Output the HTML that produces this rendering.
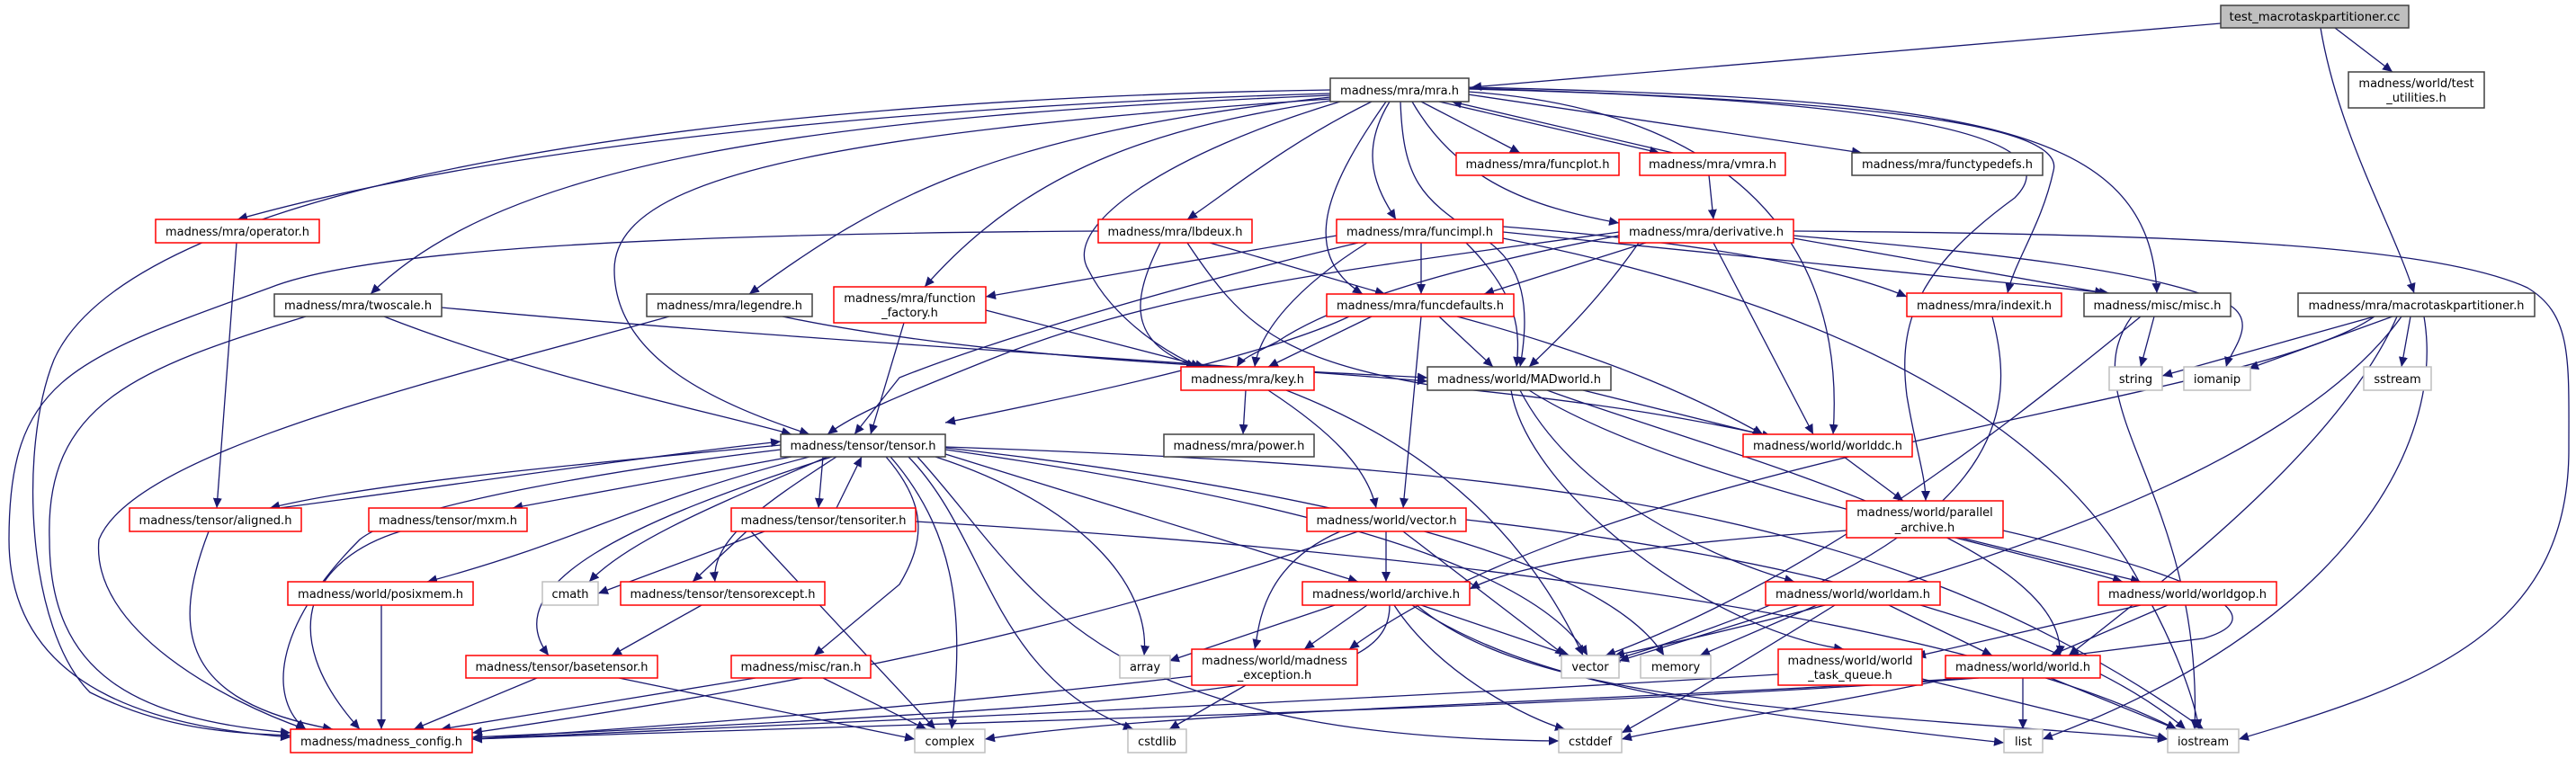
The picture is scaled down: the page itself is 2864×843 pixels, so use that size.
<!DOCTYPE html>
<html><head><meta charset="utf-8">
<style>
html,body{margin:0;padding:0;background:#fff;}
svg{display:block;}
text{font-family:"DejaVu Sans","Liberation Sans",sans-serif;font-size:13px;fill:#000;}
.e{fill:none;stroke:#191970;stroke-width:1.3;}
.b{fill:#fff;stroke:#404040;stroke-width:1.5;}
.r{fill:#fff;stroke:#ff0000;stroke-width:1.5;}
.g{fill:#fff;stroke:#bfbfbf;stroke-width:1.5;}
</style></head><body>
<svg width="2864" height="843" viewBox="0 0 2864 843" xmlns="http://www.w3.org/2000/svg">
<defs>
<marker id="a" markerUnits="userSpaceOnUse" markerWidth="12" markerHeight="10" refX="11" refY="5" orient="auto">
<path d="M0,0 L11,5 L0,10 z" fill="#191970"/>
</marker>
</defs>
<g class="e" marker-end="url(#a)">
<path d="M2469,26 L1636,97"/>
<path d="M2596,31 L2660,80"/>
<path d="M2580,31 C2600,150 2660,250 2684,326"/>
<path d="M1479,104 C1100,115 600,150 264,244"/>
<path d="M1479,106 C900,130 560,180 412,327"/>
<path d="M1479,108 C1100,150 980,220 833,327"/>
<path d="M1479,110 C900,150 683,200 683,300 C683,400 800,450 900,483"/>
<path d="M1479,112 C1300,140 1150,180 1028,319"/>
<path d="M1490,113 C1300,170 1180,250 1210,300 C1240,360 1310,400 1335,408"/>
<path d="M1525,113 C1430,160 1370,210 1320,244"/>
<path d="M1541,113 C1480,200 1440,280 1515,327"/>
<path d="M1545,113 C1510,170 1530,210 1552,244"/>
<path d="M1557,113 C1560,200 1580,220 1640,260 C1700,290 1700,350 1690,408"/>
<path d="M1570,113 C1620,200 1700,230 1800,248"/>
<path d="M1580,113 L1690,170"/>
<path d="M1600,113 L1845,170"/>
<path d="M1860,170 L1614,113"/>
<path d="M1632,105 L2070,170"/>
<path d="M1632,102 C1900,120 2055,250 2038,483"/>
<path d="M1632,98 C2000,110 2300,130 2283,190 C2270,250 2240,290 2232,326"/>
<path d="M1632,97 C2200,110 2390,140 2398,326"/>
<path d="M1632,99 C2100,110 2310,150 2240,220 C2130,300 2110,360 2120,440 C2130,500 2141,530 2141,557"/>
<path d="M1479,100 C800,110 150,200 60,400 C20,500 30,700 100,770 C180,810 250,815 323,818"/>
<path d="M1900,195 L1905,244"/>
<path d="M1994,257 C2400,260 2700,270 2810,320 C2860,350 2856,400 2856,500 C2856,700 2700,760 2489,822"/>
<path d="M1830,270 L1650,327"/>
<path d="M1800,258 C1500,300 1300,320 1100,400 C1000,440 950,460 920,483"/>
<path d="M1800,262 C1600,300 1480,340 1420,380 C1390,395 1380,400 1375,408"/>
<path d="M1822,270 C1780,330 1740,370 1700,408"/>
<path d="M1905,270 L2016,483"/>
<path d="M1994,265 L2340,326"/>
<path d="M1994,262 C2200,280 2400,300 2480,340 C2510,360 2480,390 2475,408"/>
<path d="M1671,252 C1900,270 2050,300 2120,330"/>
<path d="M1671,258 L2345,326"/>
<path d="M1520,270 C1440,320 1400,370 1395,408"/>
<path d="M1580,270 L1580,327"/>
<path d="M1630,270 C1690,330 1690,370 1686,408"/>
<path d="M1486,262 L1096,330"/>
<path d="M1510,270 C1300,320 1100,380 1000,420 L950,483"/>
<path d="M1671,265 C2100,350 2300,500 2380,650 C2420,720 2440,780 2445,811"/>
<path d="M1345,270 L1540,327"/>
<path d="M1290,270 C1260,330 1250,380 1330,408"/>
<path d="M1320,270 C1380,360 1420,400 1600,430 C1800,450 1900,470 1960,483"/>
<path d="M1221,257 C700,260 400,280 300,320 C80,400 10,420 10,600 C10,780 200,810 323,820"/>
<path d="M1096,345 L1340,408"/>
<path d="M1005,359 L968,483"/>
<path d="M491,342 C900,380 1300,400 1587,424"/>
<path d="M427,352 C600,420 800,460 880,483"/>
<path d="M340,352 C150,410 50,450 55,600 C55,750 150,800 323,815"/>
<path d="M870,352 C1100,400 1400,410 1587,420"/>
<path d="M744,352 C500,420 150,500 110,600 C100,700 250,780 340,811"/>
<path d="M263,270 L241,565"/>
<path d="M1525,352 L1410,408"/>
<path d="M1600,352 L1660,408"/>
<path d="M1500,352 C1400,400 1150,450 1051,470"/>
<path d="M1580,352 L1560,565"/>
<path d="M1620,352 C1800,400 1900,450 1960,483"/>
<path d="M1385,434 L1382,483"/>
<path d="M1410,434 C1480,480 1520,520 1530,565"/>
<path d="M1430,434 C1600,500 1700,600 1760,729"/>
<path d="M1690,434 C1750,550 1900,620 1995,647"/>
<path d="M1700,434 C1850,530 2200,600 2360,647"/>
<path d="M1720,434 C1900,500 2300,600 2290,729"/>
<path d="M1680,434 C1700,550 1900,700 2050,722"/>
<path d="M1760,434 L1970,486"/>
<path d="M2050,508 L2116,557"/>
<path d="M868,495 C600,520 400,540 300,565"/>
<path d="M310,565 C500,540 700,510 868,491"/>
<path d="M880,508 L570,565"/>
<path d="M900,508 C700,560 650,600 475,647"/>
<path d="M920,508 C800,560 700,600 655,647"/>
<path d="M930,508 C850,560 790,600 795,647"/>
<path d="M915,508 L910,565"/>
<path d="M930,565 L958,508"/>
<path d="M925,508 C700,580 550,650 610,729"/>
<path d="M868,500 C700,520 450,560 400,600 C300,700 300,780 340,811"/>
<path d="M985,508 C1030,560 1030,600 1000,650 L905,729"/>
<path d="M990,508 C1070,600 1070,700 1058,811"/>
<path d="M1010,508 C1100,600 1100,750 1260,811"/>
<path d="M1020,508 C1150,650 1200,820 1733,824"/>
<path d="M1040,508 C1200,560 1280,650 1272,729"/>
<path d="M1051,505 L1510,647"/>
<path d="M1051,500 C1400,550 1700,620 1765,729"/>
<path d="M1051,498 C1600,560 1800,650 1850,729"/>
<path d="M1051,497 C1700,520 2100,560 2450,811"/>
<path d="M830,591 L770,647"/>
<path d="M850,591 L665,660"/>
<path d="M835,591 L1040,811"/>
<path d="M1018,580 C1700,620 2200,700 2420,811"/>
<path d="M424,673 L424,811"/>
<path d="M445,591 C350,620 300,700 400,811"/>
<path d="M232,591 C190,700 200,780 370,811"/>
<path d="M780,673 L680,729"/>
<path d="M597,754 L460,811"/>
<path d="M688,754 L1017,822"/>
<path d="M840,754 L490,811"/>
<path d="M915,754 L1030,811"/>
<path d="M1490,591 C1400,630 1400,700 1395,722"/>
<path d="M1541,591 L1541,647"/>
<path d="M1560,591 L1740,729"/>
<path d="M1510,591 C1200,700 900,760 525,815"/>
<path d="M1630,578 C2000,620 2300,700 2430,811"/>
<path d="M1484,673 L1300,735"/>
<path d="M1520,673 L1450,722"/>
<path d="M1545,673 C1545,760 1400,780 525,820"/>
<path d="M1580,673 L1745,729"/>
<path d="M1550,673 C1600,750 1700,800 1740,811"/>
<path d="M1570,673 C1700,760 1900,790 2228,826"/>
<path d="M1575,673 C1700,780 2000,790 2410,822"/>
<path d="M1325,752 C1000,790 700,810 525,822"/>
<path d="M1385,762 L1300,811"/>
<path d="M2053,590 C1900,600 1700,620 1634,655"/>
<path d="M2180,598 L2380,647"/>
<path d="M2227,590 C2400,630 2550,680 2450,710 L2300,729"/>
<path d="M2000,673 L1800,735"/>
<path d="M2020,673 L1890,729"/>
<path d="M2040,673 C1900,760 1830,800 1803,815"/>
<path d="M2100,673 L2215,729"/>
<path d="M2380,673 L2130,730"/>
<path d="M2410,673 L2280,729"/>
<path d="M1977,750 C1500,780 1000,800 525,822"/>
<path d="M2137,755 L2410,822"/>
<path d="M2249,754 L2249,811"/>
<path d="M2280,754 L2420,811"/>
<path d="M2200,754 C1700,790 1000,805 525,822"/>
<path d="M2170,754 C2000,790 1850,810 1803,822"/>
<path d="M2190,754 C1800,780 1300,790 1095,822"/>
<path d="M2640,352 L2404,418"/>
<path d="M2660,352 L2500,410"/>
<path d="M2680,352 L2670,408"/>
<path d="M2695,352 C2720,500 2600,700 2271,822"/>
<path d="M2670,352 C2600,450 2400,600 1795,729"/>
<path d="M2640,352 C2500,450 1800,500 1500,722"/>
<path d="M2665,352 C2600,500 2400,650 2300,729"/>
<path d="M2395,352 L2380,408"/>
<path d="M2380,352 C2200,500 2000,650 1785,729"/>
<path d="M2370,352 C2300,450 2450,550 2440,811"/>
<path d="M2215,352 C2240,450 2250,600 1790,735"/>
</g>

<rect x="2469" y="6" width="209" height="25" fill="#bfbfbf" stroke="#404040" stroke-width="1.5"/>
<text x="2573.5" y="23" text-anchor="middle" textLength="190" lengthAdjust="spacingAndGlyphs">test_macrotaskpartitioner.cc</text>

<rect class="b" x="2611" y="80" width="151" height="40"/>
<text x="2686.5" y="97" text-anchor="middle">madness/world/test</text>
<text x="2686.5" y="113" text-anchor="middle">_utilities.h</text>

<rect class="b" x="1479" y="87" width="154" height="26"/>
<text x="1556" y="105" text-anchor="middle" textLength="132" lengthAdjust="spacingAndGlyphs">madness/mra/mra.h</text>

<rect class="r" x="173" y="244" width="182" height="26"/>
<text x="264" y="262" text-anchor="middle" textLength="160" lengthAdjust="spacingAndGlyphs">madness/mra/operator.h</text>

<rect class="b" x="305" y="327" width="186" height="25"/>
<text x="398" y="344" text-anchor="middle" textLength="164" lengthAdjust="spacingAndGlyphs">madness/mra/twoscale.h</text>

<rect class="b" x="719" y="327" width="184" height="25"/>
<text x="811" y="344" text-anchor="middle" textLength="162" lengthAdjust="spacingAndGlyphs">madness/mra/legendre.h</text>

<rect class="r" x="927" y="319" width="169" height="40"/>
<text x="1011.5" y="336" text-anchor="middle">madness/mra/function</text>
<text x="1011.5" y="352" text-anchor="middle">_factory.h</text>

<rect class="r" x="1221" y="244" width="171" height="26"/>
<text x="1306.5" y="262" text-anchor="middle" textLength="150" lengthAdjust="spacingAndGlyphs">madness/mra/lbdeux.h</text>

<rect class="r" x="1486" y="244" width="185" height="26"/>
<text x="1578.5" y="262" text-anchor="middle" textLength="163" lengthAdjust="spacingAndGlyphs">madness/mra/funcimpl.h</text>

<rect class="r" x="1619" y="170" width="181" height="25"/>
<text x="1709.5" y="187" text-anchor="middle" textLength="160" lengthAdjust="spacingAndGlyphs">madness/mra/funcplot.h</text>

<rect class="r" x="1823" y="170" width="162" height="25"/>
<text x="1904" y="187" text-anchor="middle" textLength="142" lengthAdjust="spacingAndGlyphs">madness/mra/vmra.h</text>

<rect class="b" x="2059" y="170" width="212" height="25"/>
<text x="2165" y="187" text-anchor="middle" textLength="190" lengthAdjust="spacingAndGlyphs">madness/mra/functypedefs.h</text>

<rect class="r" x="1800" y="244" width="194" height="26"/>
<text x="1897" y="262" text-anchor="middle" textLength="172" lengthAdjust="spacingAndGlyphs">madness/mra/derivative.h</text>

<rect class="r" x="1475" y="327" width="208" height="25"/>
<text x="1579" y="344" text-anchor="middle" textLength="186" lengthAdjust="spacingAndGlyphs">madness/mra/funcdefaults.h</text>

<rect class="r" x="2120" y="326" width="172" height="26"/>
<text x="2206" y="344" text-anchor="middle" textLength="150" lengthAdjust="spacingAndGlyphs">madness/mra/indexit.h</text>

<rect class="b" x="2317" y="326" width="163" height="26"/>
<text x="2398.5" y="344" text-anchor="middle" textLength="142" lengthAdjust="spacingAndGlyphs">madness/misc/misc.h</text>

<rect class="b" x="2555" y="326" width="263" height="26"/>
<text x="2686.5" y="344" text-anchor="middle" textLength="240" lengthAdjust="spacingAndGlyphs">madness/mra/macrotaskpartitioner.h</text>

<rect class="r" x="1313" y="408" width="148" height="26"/>
<text x="1387" y="426" text-anchor="middle" textLength="126" lengthAdjust="spacingAndGlyphs">madness/mra/key.h</text>

<rect class="b" x="1587" y="408" width="204" height="26"/>
<text x="1689" y="426" text-anchor="middle" textLength="182" lengthAdjust="spacingAndGlyphs">madness/world/MADworld.h</text>

<rect class="g" x="2345" y="408" width="59" height="26"/>
<text x="2374.5" y="426" text-anchor="middle">string</text>
<rect class="g" x="2428" y="408" width="74" height="26"/>
<text x="2465" y="426" text-anchor="middle">iomanip</text>
<rect class="g" x="2628" y="408" width="75" height="26"/>
<text x="2665.5" y="426" text-anchor="middle">sstream</text>

<rect class="b" x="868" y="483" width="183" height="25"/>
<text x="959.5" y="500" text-anchor="middle" textLength="162" lengthAdjust="spacingAndGlyphs">madness/tensor/tensor.h</text>

<rect class="b" x="1294" y="483" width="167" height="25"/>
<text x="1377.5" y="500" text-anchor="middle" textLength="146" lengthAdjust="spacingAndGlyphs">madness/mra/power.h</text>

<rect class="r" x="1938" y="483" width="188" height="25"/>
<text x="2032" y="500" text-anchor="middle" textLength="166" lengthAdjust="spacingAndGlyphs">madness/world/worlddc.h</text>

<rect class="r" x="144" y="565" width="191" height="26"/>
<text x="239.5" y="583" text-anchor="middle" textLength="170" lengthAdjust="spacingAndGlyphs">madness/tensor/aligned.h</text>

<rect class="r" x="410" y="565" width="176" height="26"/>
<text x="498" y="583" text-anchor="middle" textLength="154" lengthAdjust="spacingAndGlyphs">madness/tensor/mxm.h</text>

<rect class="r" x="813" y="565" width="205" height="26"/>
<text x="915.5" y="583" text-anchor="middle" textLength="184" lengthAdjust="spacingAndGlyphs">madness/tensor/tensoriter.h</text>

<rect class="r" x="1453" y="565" width="177" height="26"/>
<text x="1541.5" y="583" text-anchor="middle" textLength="156" lengthAdjust="spacingAndGlyphs">madness/world/vector.h</text>

<rect class="r" x="2053" y="557" width="174" height="41"/>
<text x="2140" y="574" text-anchor="middle">madness/world/parallel</text>
<text x="2140" y="591" text-anchor="middle">_archive.h</text>

<rect class="r" x="320" y="647" width="206" height="26"/>
<text x="423" y="665" text-anchor="middle" textLength="184" lengthAdjust="spacingAndGlyphs">madness/world/posixmem.h</text>

<rect class="g" x="603" y="647" width="62" height="26"/>
<text x="634" y="665" text-anchor="middle">cmath</text>

<rect class="r" x="690" y="647" width="227" height="26"/>
<text x="803.5" y="665" text-anchor="middle" textLength="206" lengthAdjust="spacingAndGlyphs">madness/tensor/tensorexcept.h</text>

<rect class="r" x="1448" y="647" width="186" height="26"/>
<text x="1541" y="665" text-anchor="middle" textLength="164" lengthAdjust="spacingAndGlyphs">madness/world/archive.h</text>

<rect class="r" x="1963" y="647" width="194" height="26"/>
<text x="2060" y="665" text-anchor="middle" textLength="172" lengthAdjust="spacingAndGlyphs">madness/world/worldam.h</text>

<rect class="r" x="2333" y="647" width="198" height="26"/>
<text x="2432" y="665" text-anchor="middle" textLength="176" lengthAdjust="spacingAndGlyphs">madness/world/worldgop.h</text>

<rect class="r" x="518" y="729" width="213" height="25"/>
<text x="624.5" y="746" text-anchor="middle" textLength="192" lengthAdjust="spacingAndGlyphs">madness/tensor/basetensor.h</text>

<rect class="r" x="813" y="729" width="155" height="25"/>
<text x="890.5" y="746" text-anchor="middle" textLength="134" lengthAdjust="spacingAndGlyphs">madness/misc/ran.h</text>

<rect class="g" x="1245" y="729" width="56" height="25"/>
<text x="1273" y="746" text-anchor="middle">array</text>

<rect class="r" x="1325" y="722" width="184" height="40"/>
<text x="1417" y="739" text-anchor="middle">madness/world/madness</text>
<text x="1417" y="755" text-anchor="middle">_exception.h</text>

<rect class="g" x="1736" y="729" width="64" height="25"/>
<text x="1768" y="746" text-anchor="middle">vector</text>
<rect class="g" x="1824" y="729" width="78" height="25"/>
<text x="1863" y="746" text-anchor="middle">memory</text>

<rect class="r" x="1977" y="722" width="160" height="40"/>
<text x="2057" y="739" text-anchor="middle">madness/world/world</text>
<text x="2057" y="755" text-anchor="middle">_task_queue.h</text>

<rect class="r" x="2163" y="729" width="172" height="25"/>
<text x="2249" y="746" text-anchor="middle" textLength="150" lengthAdjust="spacingAndGlyphs">madness/world/world.h</text>

<rect class="r" x="323" y="811" width="202" height="26"/>
<text x="424" y="829" text-anchor="middle" textLength="180" lengthAdjust="spacingAndGlyphs">madness/madness_config.h</text>

<rect class="g" x="1017" y="811" width="78" height="26"/>
<text x="1056" y="829" text-anchor="middle">complex</text>
<rect class="g" x="1254" y="811" width="65" height="26"/>
<text x="1286.5" y="829" text-anchor="middle">cstdlib</text>
<rect class="g" x="1733" y="811" width="70" height="26"/>
<text x="1768" y="829" text-anchor="middle">cstddef</text>
<rect class="g" x="2228" y="811" width="43" height="26"/>
<text x="2249.5" y="829" text-anchor="middle">list</text>
<rect class="g" x="2410" y="811" width="79" height="26"/>
<text x="2449.5" y="829" text-anchor="middle">iostream</text>
</svg>
</body></html>
